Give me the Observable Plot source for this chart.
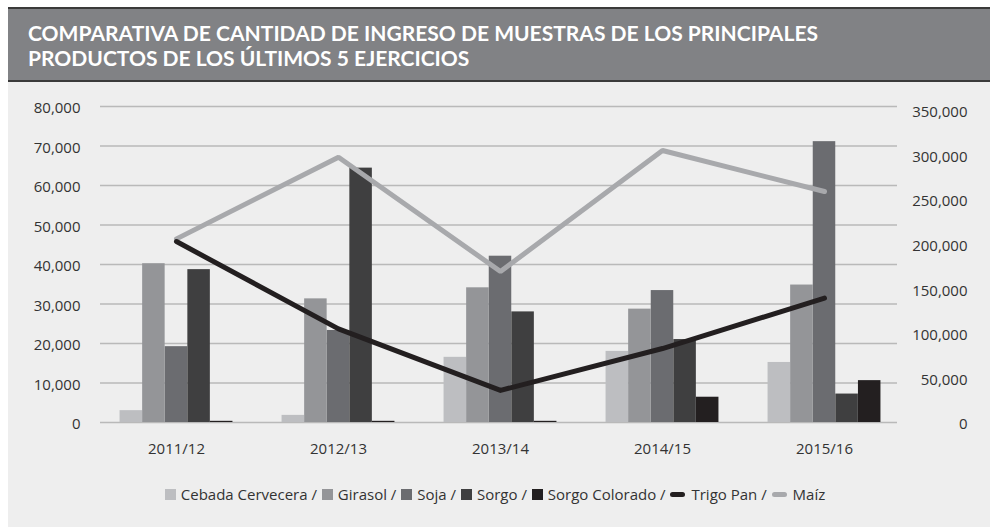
<!DOCTYPE html>
<html>
<head>
<meta charset="utf-8">
<script src="https://cdn.jsdelivr.net/npm/d3@7"></script>
<script src="https://cdn.jsdelivr.net/npm/@observablehq/plot@0.6"></script>
<style>
  html, body { margin: 0; padding: 0; background: #ffffff; }
  #page { position: relative; width: 990px; height: 527px; overflow: hidden; background: #ffffff; font-family: "Open Sans", sans-serif; }
  #bg { position: absolute; left: 8px; top: 82px; right: 0; bottom: 0; background: #eeeeee; }
  #titlebar { position: absolute; left: 8px; top: 7px; right: 0; height: 71px; background: #818285; border-top: 2px solid #3a3a3a; border-bottom: 2px solid #3a3a3a; }
  .tline { position: absolute; left: 28px; color: #ffffff; font-family: Lato, "Open Sans", sans-serif; font-weight: 700; font-size: 20.5px; line-height: 22px; height: 22px; white-space: nowrap; transform-origin: 0 0; }
  #t1 { top: 22px; }
  #t2 { top: 47px; }
  #chart { position: absolute; left: 0; top: 90px; }
  #legend { position: absolute; left: 0; top: 484px; width: 990px; display: flex; justify-content: center; align-items: center; font-size: 15px; color: #333333; white-space: pre; }
  .sw { display: inline-block; width: 11px; height: 11px; margin-right: 5px; }
  .ln { display: inline-block; width: 15px; height: 5px; border-radius: 3px; margin-right: 6px; }
</style>
</head>
<body>
<div id="page">
  <div id="bg"></div>
  <div id="titlebar"></div>
  <div class="tline" id="t1">COMPARATIVA DE CANTIDAD DE INGRESO DE MUESTRAS DE LOS PRINCIPALES</div>
  <div class="tline" id="t2">PRODUCTOS DE LOS ÚLTIMOS 5 EJERCICIOS</div>
  <div id="chart"></div>
  <div id="legend"></div>
</div>
<script>
// ---- data ----
const years = ["2011/12", "2012/13", "2013/14", "2014/15", "2015/16"];
const cebadaCervecera = [3000, 1800, 16500, 18000, 15200];
const girasol = [40200, 31300, 34100, 28700, 34800];
const soja = [19200, 23300, 42100, 33400, 71100];
const sorgo = [38700, 64400, 28000, 21000, 7200];
const sorgoColorado = [300, 300, 300, 6400, 10600];
const trigoPan = [203000, 105000, 36000, 83000, 139500];   // right axis
const maiz = [206000, 297600, 169400, 305100, 259100];     // right axis
const leftTicks = [0, 10000, 20000, 30000, 40000, 50000, 60000, 70000, 80000];
const rightTicks = [0, 50000, 100000, 150000, 200000, 250000, 300000, 350000];
const barSeries = ["Cebada Cervecera", "Girasol", "Soja", "Sorgo", "Sorgo Colorado"];
const barColors = ["#bdbec1", "#949598", "#6b6c70", "#3f3f40", "#231f20"];
const lineSeries = ["Trigo Pan", "Maíz"];
const lineColors = ["#231f20", "#a8a9ac"];

const barValues = [cebadaCervecera, girasol, soja, sorgo, sorgoColorado];
const table = years.map((year, i) => ({
  year,
  bars: barValues.map(s => s[i]),
  trigo: trigoPan[i],
  maiz: maiz[i]
}));

const leftMax = 80000, rightMax = 354500;
const k = leftMax / rightMax; // right-axis units -> left-axis units

const xRange = [95, 905.5];
const band = (xRange[1] - xRange[0]) / years.length;
const groupW = 113, barW = groupW / barSeries.length, pad = (band - groupW) / 2;

const fmt = d3.format(",");

const barMarks = barSeries.map((name, j) =>
  Plot.barY(table, {
    x: "year",
    y: d => d.bars[j],
    fill: barColors[j],
    insetLeft: pad + j * barW,
    insetRight: band - pad - (j + 1) * barW
  })
);

const chart = Plot.plot({
  width: 990,
  height: 370,
  marginTop: 16,
  marginBottom: 38,
  marginLeft: 100,
  marginRight: 93,
  style: { background: "transparent", fontFamily: "'Open Sans', sans-serif", fontSize: "15px", color: "#333333" },
  x: { type: "band", domain: years, range: xRange, padding: 0, label: null },
  y: { domain: [0, leftMax], label: null },
  marks: [
    Plot.ruleY(leftTicks, { stroke: "#b9b9b9", strokeWidth: 1.5 }),
    ...barMarks,
    Plot.line(table, { x: "year", y: d => d.maiz * k, stroke: lineColors[1], strokeWidth: 5, strokeLinejoin: "miter", strokeLinecap: "round" }),
    Plot.line(table, { x: "year", y: d => d.trigo * k, stroke: lineColors[0], strokeWidth: 5, strokeLinejoin: "round", strokeLinecap: "round" }),
    Plot.axisX({ tickSize: 0, tickPadding: 21, fontSize: 15, fill: "#333333", label: null }),
    Plot.axisY(leftTicks, { anchor: "left", tickSize: 0, tickPadding: 20, tickFormat: fmt, fontSize: 15, fill: "#333333", dy: 2, label: null }),
    Plot.axisY(rightTicks.map(v => v * k), { anchor: "right", tickSize: 0, tickPadding: 70, textAnchor: "end", tickFormat: d => fmt(Math.round(d / k)), fontSize: 15, fill: "#333333", dy: 2, label: null })
  ]
});
document.getElementById("chart").appendChild(chart);

// legend
const legend = document.getElementById("legend");
const items = [
  ...barSeries.map((n, j) => ({ name: n, color: barColors[j], type: "sw" })),
  ...lineSeries.map((n, j) => ({ name: n, color: lineColors[j], type: "ln" }))
];
items.forEach((it, i) => {
  const s = document.createElement("span");
  s.className = it.type;
  s.style.background = it.color;
  legend.appendChild(s);
  const t = document.createElement("span");
  t.textContent = it.name + (i < items.length - 1 ? " / " : "");
  t.style.marginRight = i < items.length - 1 ? "1px" : "0";
  legend.appendChild(t);
});

// fit title width to the reference
const t1 = document.getElementById("t1"), t2 = document.getElementById("t2");
const sx = 790 / t1.getBoundingClientRect().width;
t1.style.transform = `scaleX(${sx})`;
t2.style.transform = `scaleX(${sx})`;
</script>
</body>
</html>
